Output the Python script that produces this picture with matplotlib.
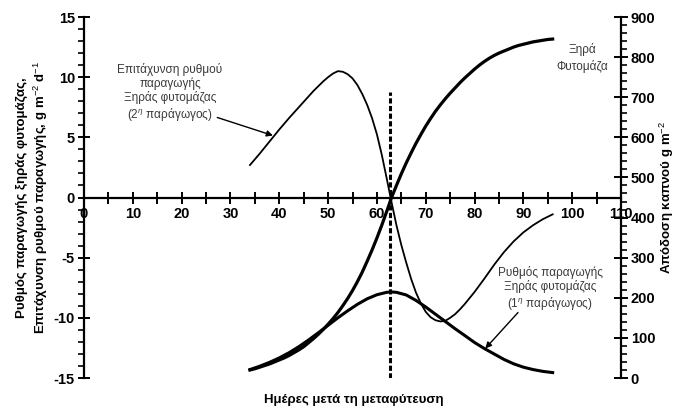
import matplotlib
matplotlib.use("Agg")
import matplotlib.pyplot as plt
from matplotlib.ticker import MultipleLocator

plt.rcParams['font.family'] = ['Liberation Sans', 'DejaVu Sans']
plt.rcParams['mathtext.fontset'] = 'custom'
plt.rcParams['mathtext.rm'] = 'Liberation Sans'
plt.rcParams['mathtext.it'] = 'Liberation Sans:italic'
plt.rcParams['mathtext.bf'] = 'Liberation Sans:bold'
plt.rcParams['axes.unicode_minus'] = False

# Dry biomass (g m-2) by day after transplanting, right axis
biomass_days = list(range(34, 97))
biomass = [20, 23, 27, 31, 35, 40, 45, 50, 56, 63, 70, 78, 88, 98, 109, 121,
           134, 148, 163, 180, 198, 218, 240, 264, 291, 319, 349, 381, 415,
           450, 480, 509, 536, 561, 585, 607, 628, 647, 665, 681, 696, 710,
           723, 736, 748, 759, 770, 780, 789, 797, 804, 810, 815, 820, 825,
           829, 832, 835, 838, 840, 842, 844, 845]

# Dry biomass production rate (1st derivative), left axis
rate_days = [34, 36, 38, 40, 42, 44, 46, 48, 50, 52, 54, 56, 58, 60, 62, 63,
             64, 66, 68, 70, 72, 74, 76, 78, 80, 82, 84, 86, 88, 90, 92, 94, 96]
rate = [-14.30, -14.02, -13.70, -13.33, -12.90, -12.40, -11.84, -11.24,
        -10.62, -10.00, -9.42, -8.88, -8.42, -8.08, -7.88, -7.85, -7.88,
        -8.10, -8.55, -9.10, -9.70, -10.30, -10.90, -11.47, -12.05, -12.55,
        -13.00, -13.45, -13.82, -14.10, -14.30, -14.45, -14.55]

# Acceleration of the production rate (2nd derivative), left axis
accel_days = [34, 36, 38, 40, 42, 44, 46, 47, 48, 49, 50, 51, 52, 53, 54, 55,
              56, 57, 58, 59, 60, 61, 62, 63, 64, 65, 66, 67, 68, 69, 70, 71,
              72, 73, 74, 75, 76, 77, 78, 80, 82, 84, 86, 88, 90, 92, 94, 96]
accel = [2.7, 3.65, 4.65, 5.65, 6.6, 7.5, 8.4, 8.85, 9.25, 9.65, 10.0, 10.3,
         10.5, 10.45, 10.25, 9.9, 9.35, 8.6, 7.7, 6.6, 5.25, 3.55, 1.6, -0.4,
         -2.3, -3.95, -5.4, -6.75, -7.9, -8.8, -9.5, -9.95, -10.2, -10.3,
         -10.25, -10.0, -9.7, -9.3, -8.85, -7.85, -6.75, -5.6, -4.55, -3.65,
         -2.9, -2.3, -1.8, -1.4]

inflection_day = 62.7
inflection_top = 8.8

x_ticks = [0, 10, 20, 30, 40, 50, 60, 70, 80, 90, 100, 110]

fig = plt.figure(figsize=(6.8, 4.08), dpi=100)
ax = fig.add_axes([84 / 680, 30 / 408, 537 / 680, 361 / 408])
ax2 = ax.twinx()

ax.set_xlim(0, 110)
ax.set_ylim(-15, 15)
ax2.set_ylim(0, 900)

# Axes styling: x axis through zero, left and right spines only
for s in ['top', 'right']:
    ax.spines[s].set_visible(False)
ax.spines['bottom'].set_position(('data', 0))
for s in ['top', 'left', 'bottom']:
    ax2.spines[s].set_visible(False)
for sp in [ax.spines['left'], ax.spines['bottom'], ax2.spines['right']]:
    sp.set_linewidth(1.6)
    sp.set_color('black')

tick_font = 10.5
ax.set_xticks(x_ticks)
ax.xaxis.set_minor_locator(MultipleLocator(5))
ax.tick_params(axis='x', which='both', direction='inout', length=8, width=1.4,
               pad=3, labelsize=tick_font)
ax.yaxis.set_major_locator(MultipleLocator(5))
ax.yaxis.set_minor_locator(MultipleLocator(1))
ax.tick_params(axis='y', which='major', direction='inout', length=9, width=1.4,
               labelsize=tick_font, pad=2)
ax.tick_params(axis='y', which='minor', direction='out', length=4, width=1.2)
ax2.yaxis.set_major_locator(MultipleLocator(100))
ax2.yaxis.set_minor_locator(MultipleLocator(20))
ax2.tick_params(axis='y', which='major', direction='inout', length=10, width=1.4,
                labelsize=tick_font, pad=2)
ax2.tick_params(axis='y', which='minor', direction='out', length=4, width=1.2)
for lbl in ax.get_xticklabels() + ax.get_yticklabels() + ax2.get_yticklabels():
    lbl.set_fontweight('bold')

# Curves
ax.plot(accel_days, accel, color='black', lw=1.3, zorder=3,
        solid_joinstyle='round')
ax.plot(rate_days, rate, color='black', lw=2.2, zorder=3,
        solid_joinstyle='round')
ax2.plot(biomass_days, biomass, color='black', lw=2.3, zorder=3,
         solid_joinstyle='round')
ax.plot([inflection_day, inflection_day], [-15, inflection_top], color='black',
        lw=2.2, ls=(0, (1.7, 0.8)), zorder=2)

# Axis labels
ax.set_ylabel('Ρυθμός παραγωγής ξηράς φυτομάζας,\n'
              'Επιτάχυνση ρυθμού παραγωγής, g m$^{-2}$ d$^{-1}$',
              fontsize=9.5, fontweight='bold', labelpad=2.5, linespacing=1.3)
ax2.set_ylabel('Απόδοση καπνού g m$^{-2}$', fontsize=9.5, fontweight='bold',
               labelpad=2)
fig.text(0.52, 0.02, 'Ημέρες μετά τη μεταφύτευση', ha='center', va='center',
         fontsize=9.5, fontweight='bold')

# Curve annotations
note_color = '#3a3a3a'
arrow = dict(arrowstyle='-|>', color='black', lw=1.0, shrinkA=0, shrinkB=0,
             mutation_scale=9)
ax.text(17.6, 8.7,
        'Επιτάχυνση ρυθμού\nπαραγωγής\nΞηράς φυτομάζας\n(2$^{η}$ παράγωγος)',
        ha='center', va='center', fontsize=8.5, color=note_color,
        linespacing=1.15)
ax.annotate('', xy=(38.7, 5.15), xytext=(27.3, 6.65), arrowprops=arrow)

ax.text(95.5, -7.6, 'Ρυθμός παραγωγής\nΞηράς φυτομάζας\n(1$^{η}$ παράγωγος)',
        ha='center', va='center', fontsize=8.5, color=note_color,
        linespacing=1.15)
ax.annotate('', xy=(82.2, -12.55), xytext=(88.9, -9.56), arrowprops=arrow)

ax.text(102, 11.6, 'Ξηρά\nΦυτομάζα', ha='center', va='center', fontsize=8.5,
        color=note_color, linespacing=1.45)

fig.savefig('out.png', dpi=100)
